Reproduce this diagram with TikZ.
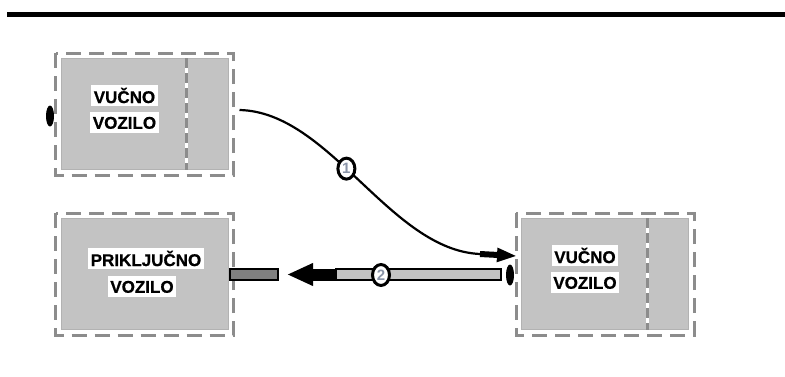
\documentclass[tikz,border=0pt]{standalone}
\usepackage{fontspec}
\setmainfont{Liberation Sans}
\newfontfamily\heavyfont{Liberation Sans}[BoldFeatures={FakeBold=0.8}]
\usetikzlibrary{arrows.meta,positioning,shapes.geometric}

\definecolor{bodygray}{HTML}{C3C3C3}
\definecolor{dashgray}{HTML}{8C8C8C}
\definecolor{bargray}{HTML}{808080}
\definecolor{numgray}{HTML}{8A94A8}

\begin{document}
\begin{tikzpicture}[
    x=1pt, y=-1pt,
    body/.style={rectangle, fill=bodygray, draw=gray!60, line width=1pt,
                 minimum width=167pt, minimum height=111pt, inner sep=0pt},
    frame/.style={draw=dashgray, line width=3pt, dash pattern=on 15pt off 8pt},
    divider/.style={draw=dashgray, line width=3pt, dash pattern=on 10pt off 5pt},
    tag/.style={fill=white, font=\heavyfont\bfseries\fontsize{17}{19}\selectfont,
                inner sep=2.5pt, minimum height=21pt},
    bumper/.style={ellipse, fill=black, minimum width=8pt, minimum height=21pt, inner sep=0pt},
    hitchbar/.style={rectangle, draw=black, line width=2pt, inner sep=0pt,
                     minimum width=48pt, minimum height=11pt},
    num/.style={ellipse, draw=black, fill=white, line width=3pt, minimum width=17pt,
                minimum height=21pt, inner sep=0pt, text=numgray,
                font=\bfseries\fontsize{15}{15}\selectfont},
    link/.style={line width=2.2pt},
    push/.style={line width=6pt, -{Triangle[length=20pt,width=13pt]}},
    pull/.style={line width=12pt, -{Triangle[length=26pt,width=21pt]}}
]
    \useasboundingbox (0,0) rectangle (785,376);
    \draw[line width=5pt] (7,14.5) -- (785,14.5);

    % vehicles
    \node[body] (towA) at (144.5,114) {};
    \node[body] (trailer) at (144.5,274) {};
    \node[body] (towB) at (605,274) {};
    \foreach \v in {towA,trailer,towB}
        \draw[frame] ([shift={(-5pt,5pt)}]\v.north west) rectangle ([shift={(5pt,-5pt)}]\v.south east);
    \foreach \v in {towA,towB} {
        \draw[white, line width=3pt] ([xshift=-42pt]\v.north east) -- ([xshift=-42pt]\v.south east);
        \draw[divider] ([xshift=-42pt]\v.north east) -- ([xshift=-42pt]\v.south east);
    }

    \node[tag] (towAtop) at (124.5,95.5) {VUČNO};
    \node[tag, below=6pt of towAtop] (towAbot) {VOZILO};
    \node[tag] (towBtop) at (585,255.5) {VUČNO};
    \node[tag, below=6pt of towBtop] (towBbot) {VOZILO};
    \node[tag] (trailertop) at (146,258.5) {PRIKLJUČNO};
    \node[tag, below=7pt of trailertop, xshift=-4pt] (trailerbot) {VOZILO};

    \node[bumper] (bumpA) at (50,116) {};
    \node[bumper] (bumpB) at (510,275) {};

    % bars
    \node[hitchbar, fill=bargray] (hitch) at (254,274.5) {};
    \node[hitchbar, fill=bodygray, minimum width=165pt] (bar) at (418.5,274.5) {};
    \draw[pull] (bar.west) -- ([xshift=8pt]hitch.east);
    \node[num] (two) at (381,275) {2};

    % step 1
    \coordinate (bend) at (480,254);
    \coordinate (dock) at (517,256);
    \draw[link] ([xshift=11pt,yshift=4pt]towA.east) .. controls (330,112) and (390,250) .. node[num, pos=0.44] (one) {1} (bend);
    \draw[push] (bend) -- (dock);
\end{tikzpicture}
\end{document}
